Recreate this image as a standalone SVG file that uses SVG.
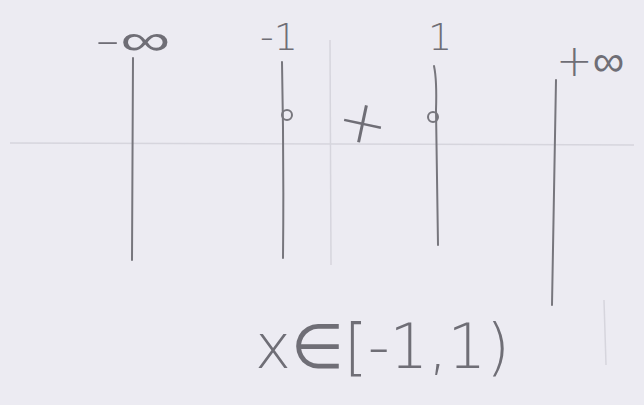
<svg xmlns="http://www.w3.org/2000/svg" width="644" height="405" viewBox="0 0 644 405">
<style>
.pen{fill:none;stroke:#77767d;stroke-width:2;stroke-linecap:round;stroke-linejoin:round}
.faint{fill:none;stroke:#d6d5dd;stroke-width:1.5}
.t{font-family:"DejaVu Sans","Liberation Sans",sans-serif;fill:#6f6e76;font-weight:300}
</style>
<rect width="644" height="405" fill="#ecebf2"/>
<g id="axis">
<path class="faint" d="M10 143 L634 145"/>
<path class="faint" d="M330 40 L331 265"/>
<path class="faint" d="M604 300 L606 365" stroke="#dedde5"/>
</g>
<g id="lines">
<path class="pen" d="M133 58 L132 260"/>
<path class="pen" d="M282 62 Q284 160 283 258"/>
<path class="pen" d="M434 66 Q437 80 436 110 L438 245"/>
<path class="pen" d="M556 80 L552 305"/>
<circle class="pen" cx="287" cy="115" r="5" stroke-width="1.6"/>
<circle class="pen" cx="433" cy="117" r="5" stroke-width="1.6"/>
</g>
<g id="labels">
<text class="t" x="95" y="55" font-size="44" textLength="75" lengthAdjust="spacingAndGlyphs">-∞</text>
<text class="t" x="260" y="50" font-size="38">-1</text>
<text class="t" x="428" y="50" font-size="38">1</text>
<text class="t" x="556" y="76" font-size="44" textLength="68" lengthAdjust="spacingAndGlyphs">+∞</text>
<text class="t" x="338" y="142" font-size="60" transform="rotate(12 360 120)">+</text>
<text class="t" x="255" y="368" font-size="62" textLength="255" lengthAdjust="spacingAndGlyphs">x∈[-1,1)</text>
</g>
</svg>
